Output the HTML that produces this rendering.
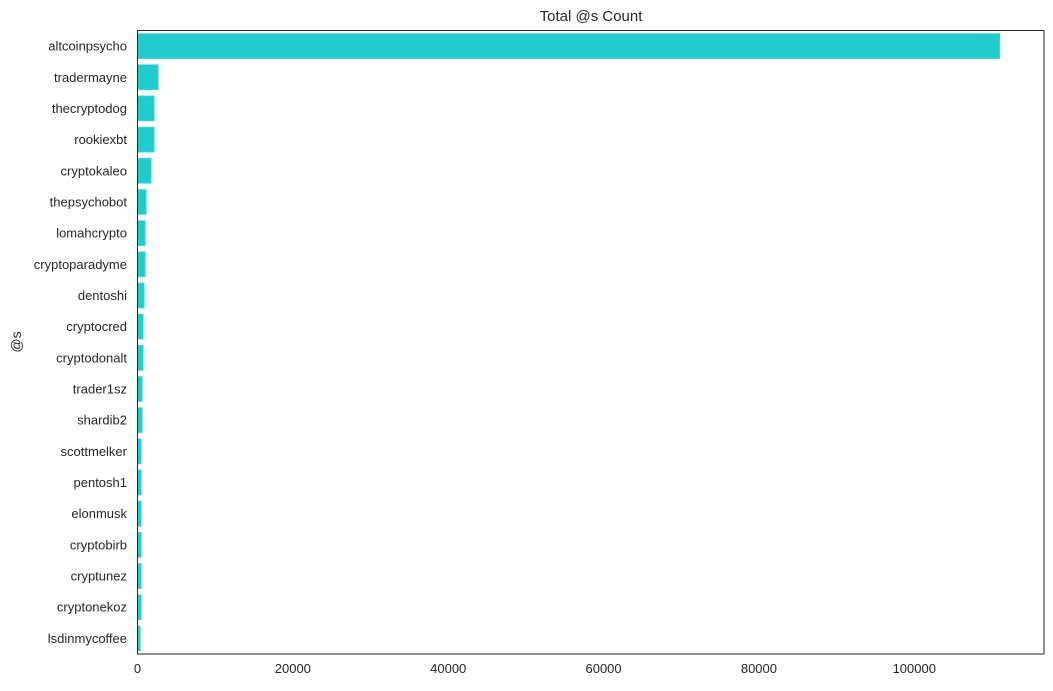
<!DOCTYPE html>
<html><head><meta charset="utf-8"><style>
body{margin:0;background:#fff;font-family:"Liberation Sans",sans-serif;}
svg text{font-family:"Liberation Sans",sans-serif;fill:#262626;}
</style></head><body>
<svg id="chart" width="1053" height="686">
<text x="591" y="21" font-size="15" text-anchor="middle">Total @s Count</text>
<text transform="translate(21,342) rotate(-90)" font-size="14" text-anchor="middle">@s</text>
<g id="bars"></g><g id="yt"></g><g id="xt"></g>
<rect x="137.5" y="30.5" width="906.5" height="623.5" fill="none" stroke="#262626" stroke-width="1"/>
</svg>
<script>
const categories=["altcoinpsycho","tradermayne","thecryptodog","rookiexbt","cryptokaleo","thepsychobot","lomahcrypto","cryptoparadyme","dentoshi","cryptocred","cryptodonalt","trader1sz","shardib2","scottmelker","pentosh1","elonmusk","cryptobirb","cryptunez","cryptonekoz","lsdinmycoffee"];
const counts=[111000,2660,2150,2150,1760,1120,990,990,860,730,730,600,600,475,475,475,475,475,475,350];
const xTicks=[0,20000,40000,60000,80000,100000];
const L=137.5,R=1044,T=30.5,B=654,xMax=116700;
const x=v=>L+(v/xMax)*(R-L);
const band=(B-T)/categories.length;
const ns="http://www.w3.org/2000/svg";
const bars=document.getElementById('bars'),yt=document.getElementById('yt'),xt=document.getElementById('xt');
categories.forEach((c,i)=>{
  const r=document.createElementNS(ns,'rect');
  const y0=T+i*band+band*0.1;
  r.setAttribute('x',x(0));r.setAttribute('y',y0);
  r.setAttribute('width',x(counts[i])-x(0));r.setAttribute('height',band*0.8);
  r.setAttribute('fill','#22cbcc');r.setAttribute('stroke','#4dd6d6');r.setAttribute('stroke-width','0.8');
  
  
  bars.appendChild(r);
  const t=document.createElementNS(ns,'text');
  t.setAttribute('x',127);t.setAttribute('y',T+(i+0.5)*band+4.5);
  t.setAttribute('font-size','13');t.setAttribute('text-anchor','end');
  t.textContent=c;
  
  
  yt.appendChild(t);
});
xTicks.forEach(v=>{
  const t=document.createElementNS(ns,'text');
  t.setAttribute('x',x(v));t.setAttribute('y',673);
  t.setAttribute('font-size','13');t.setAttribute('text-anchor','middle');
  t.textContent=v;
  
  
  xt.appendChild(t);
});
</script>
</body></html>
